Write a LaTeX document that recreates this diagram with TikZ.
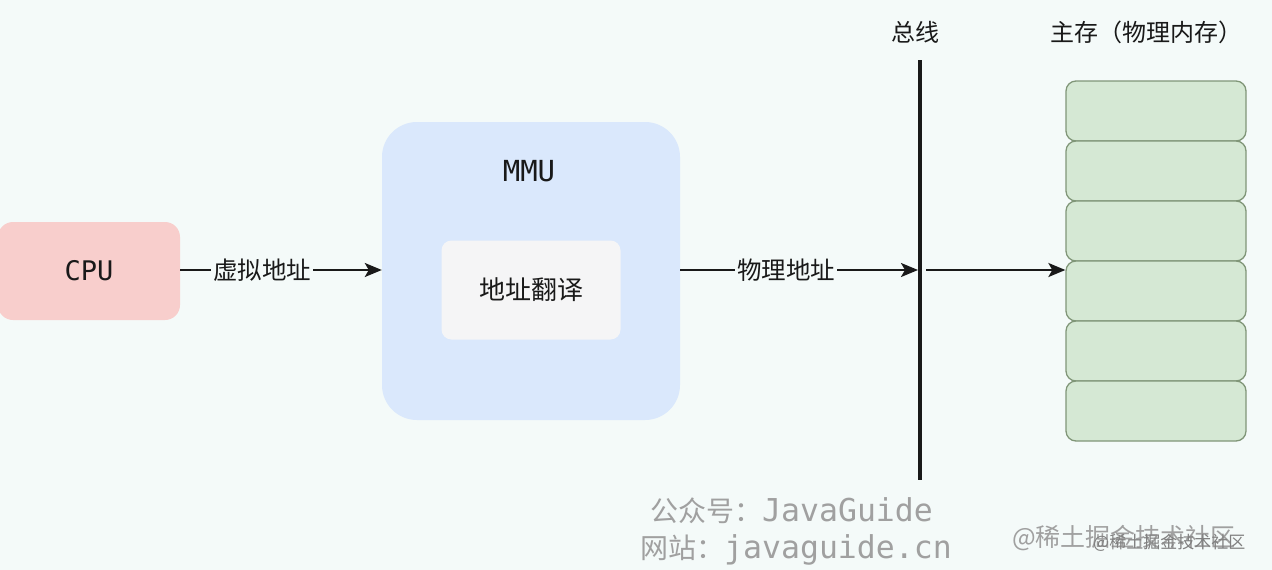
\documentclass[tikz,border=0pt]{standalone}
\usepackage{fontspec}
\setmainfont{DejaVu Sans}
\newfontfamily\cjk{Noto Sans CJK SC}
\newfontfamily\mono{DejaVu Sans Mono}
\usetikzlibrary{arrows.meta}
\definecolor{bg}{RGB}{244,250,249}
\definecolor{cpufill}{RGB}{248,206,204}
\definecolor{mmufill}{RGB}{218,232,252}
\definecolor{innerfill}{RGB}{245,245,246}
\definecolor{memfill}{RGB}{213,232,212}
\definecolor{memline}{RGB}{128,150,120}
\definecolor{wm}{RGB}{160,160,160}
\definecolor{ink}{RGB}{25,25,25}
\tikzset{
  conn/.style={draw=ink, line width=2.2pt, -{Stealth[length=17pt,width=14pt,inset=4pt]}},
  lbl/.style={fill=bg, text=ink, inner sep=2pt, font=\cjk\fontsize{24.5}{24.5}\selectfont},
  memcell/.style={draw=memline, line width=1.3pt, fill=memfill, rounded corners=10pt, minimum width=180pt, minimum height=60pt, inner sep=0pt},
  title/.style={text=ink, font=\cjk\fontsize{24}{24}\selectfont}
}
\begin{document}
\begin{tikzpicture}[x=1pt,y=-1pt]
\useasboundingbox[fill=bg] (0,0) rectangle (1272,570);
% CPU
\node[fill=cpufill, text=ink, rounded corners=15pt, minimum width=182pt, minimum height=98pt, inner sep=0pt, font=\mono\fontsize{27}{27}\selectfont] (cpu) at (89,271) {CPU};
% MMU
\node[fill=mmufill, rounded corners=35pt, minimum width=298pt, minimum height=298pt, inner sep=0pt] (mmu) at (531,271) {};
\node[text=ink, font=\mono\fontsize{29}{29}\selectfont] (mmut) at (529,171) {MMU};
\node[fill=innerfill, text=ink, rounded corners=10pt, minimum width=179pt, minimum height=99pt, inner sep=0pt, font=\cjk\fontsize{26}{26}\selectfont] (trans) at (531,290) {地址翻译};
% bus
\coordinate (bustop) at (920,60);
\coordinate (busbot) at (920,480);
\draw[ink, line width=3.2pt] (bustop) -- (busbot);
\node[title] (bust) at (915,32) {总线};
\coordinate (busin) at (918,270);
\coordinate (busout) at (926,270);
% memory
\foreach \i in {1,...,6}{
  \node[memcell] (mem\i) at (1156,{111+60*(\i-1)}) {};
}
\node[title] (memt) at (1146,32) {主存（物理内存）};
% connectors
\draw[conn] (cpu.east |- 0,270) -- (mmu.west |- 0,270);
\node[lbl] (va) at (262,270) {虚拟地址};
\draw[conn] (mmu.east |- 0,270) -- (busin);
\node[lbl] (pa) at (786,270) {物理地址};
\draw[conn] (busout) -- (busout -| mem4.west);
% watermarks
\node[text=wm, anchor=west, inner sep=0pt] (wm1) at (650,511) {{\cjk\fontsize{28}{28}\selectfont 公众号：}{\mono\fontsize{31.5}{31.5}\selectfont JavaGuide}};
\node[text=wm, anchor=west, inner sep=0pt] (wm2) at (640,550) {{\cjk\fontsize{28}{28}\selectfont 网站：}{\mono\fontsize{31.5}{31.5}\selectfont javaguide.cn}};
\node[text=wm, anchor=west, inner sep=0pt, font=\cjk\fontsize{25}{25}\selectfont] (wm3) at (1012,538) {@稀土掘金技术社区};
\node[text=wm!80!black, anchor=west, inner sep=0pt, font=\cjk\fontsize{17}{17}\selectfont] (wm4) at (1093,543) {@稀土掘金技术社区};
\end{tikzpicture}
\end{document}
